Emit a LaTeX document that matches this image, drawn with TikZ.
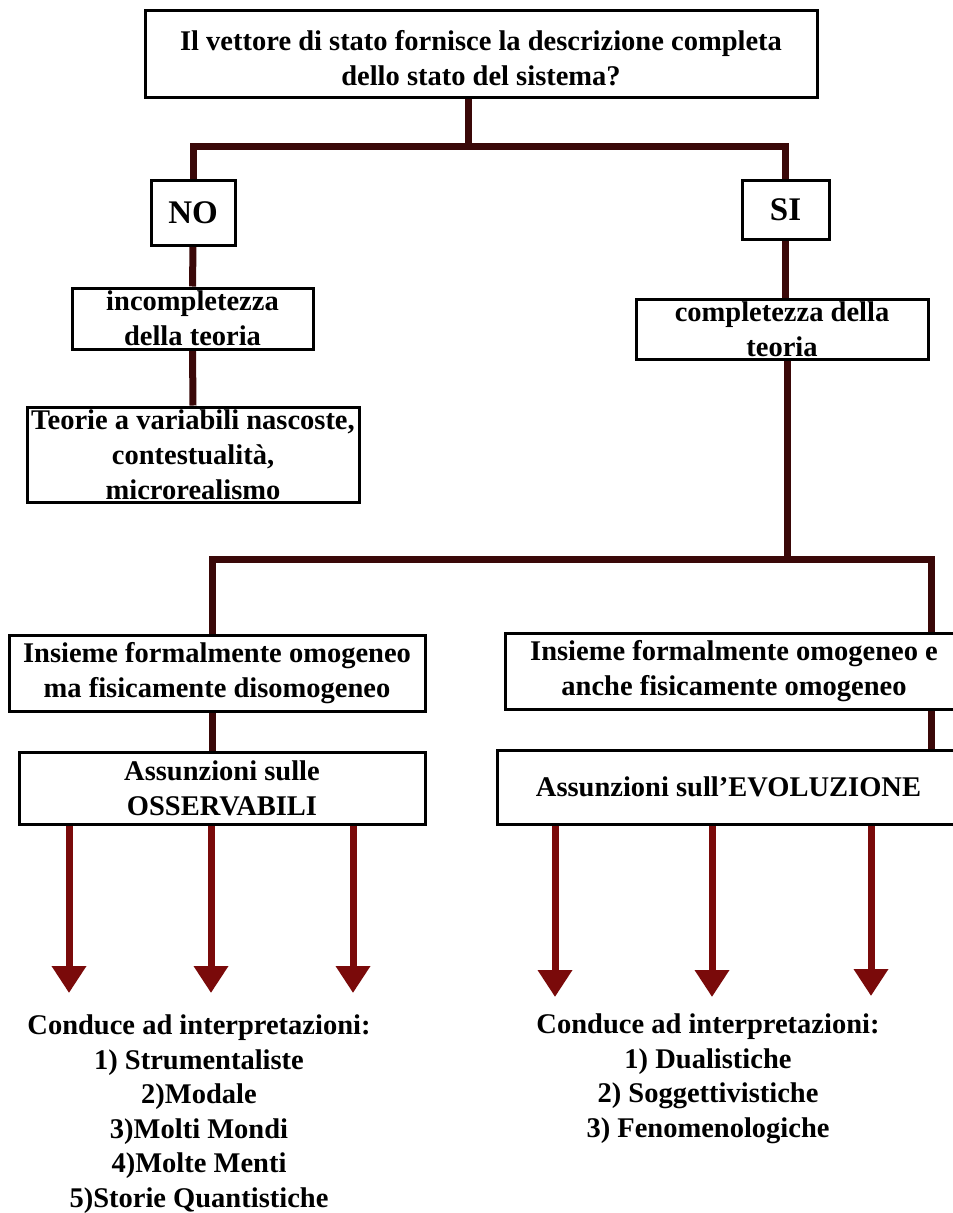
\documentclass[tikz,border=0pt]{standalone}
\usepackage{fontspec}
\setmainfont{Liberation Serif}
\usetikzlibrary{arrows.meta,backgrounds}
\definecolor{linkbrown}{HTML}{3A0808}
\definecolor{arrowred}{HTML}{7A0A0A}
\begin{document}
\begin{tikzpicture}[x=1pt,y=-1pt,
  box/.style={draw=black, line width=3pt, fill=white, inner sep=0pt,
    align=center, font=\bfseries\fontsize{28.5}{35}\selectfont},
  bigbox/.style={box, font=\bfseries\fontsize{33}{35}\selectfont},
  link/.style={draw=linkbrown, line width=7pt, line join=miter},
  down/.style={draw=arrowred, line width=7pt,
    -{Triangle[width=33pt,length=27pt]}},
  outtext/.style={align=center, inner sep=0pt, font=\bfseries\fontsize{28.5}{34.5}\selectfont}
]
\useasboundingbox (0,0) rectangle (953,1213);

% question and the two answers
\node[box, minimum width=672pt, minimum height=87pt] (q) at (481,53.5)
  {\rule{0pt}{30pt}Il vettore di stato fornisce la descrizione completa\\dello stato del sistema?};
\node[bigbox, minimum width=84pt, minimum height=65pt] (no) at (193,212.5) {NO};
\node[bigbox, minimum width=87pt, minimum height=59pt] (si) at (785.5,209.5) {SI};

% "NO" branch
\node[box, minimum width=241pt, minimum height=61pt] (inc) at (192.5,318.5)
  {incompletezza\\della teoria};
\node[box, minimum width=332pt, minimum height=95pt] (teo) at (193,454.5)
  {Teorie a variabili nascoste,\\contestualità,\\microrealismo};

% "SI" branch
\node[box, minimum width=292pt, minimum height=60pt] (comp) at (782,329)
  {completezza della\\teoria};
\node[box, minimum width=416pt, minimum height=76pt] (insL) at (217,673)
  {Insieme formalmente omogeneo\\ma fisicamente disomogeneo};
\node[box, minimum width=458pt, minimum height=76pt] (insR) at (734,671)
  {Insieme formalmente omogeneo e\\anche fisicamente omogeneo};
\node[box, minimum width=406pt, minimum height=72pt] (asL) at (222,788)
  {Assunzioni sulle\\OSSERVABILI};
\node[box, minimum width=463pt, minimum height=74pt] (asR) at (728.5,787)
  {Assunzioni sull'EVOLUZIONE};

% resulting interpretations
\node[outtext] (resL) at (199,1114)
  {Conduce ad interpretazioni:\\1) Strumentaliste\\2)Modale\\3)Molti Mondi\\4)Molte Menti\\5)Storie Quantistiche};
\node[outtext] (resR) at (708,1078.5)
  {Conduce ad interpretazioni:\\1) Dualistiche\\2) Soggettivistiche\\3) Fenomenologiche};

% junctions and arrow tips
\coordinate (j1) at (468,146);
\coordinate (j2) at (787,559);
\coordinate (j3) at (212,559);
\coordinate (j4) at (931,559);
\coordinate (tl1) at (69,993);
\coordinate (tl2) at (211,993);
\coordinate (tl3) at (353,993);
\coordinate (tr1) at (555,997);
\coordinate (tr2) at (712,997);
\coordinate (tr3) at (871,996);

\begin{scope}[on background layer]
  \fill[white] (0,0) rectangle (953,1213);
  % tree connectors
  \draw[link] (q.south -| j1) -- (j1);
  \draw[link] (no.north) |- (j1) -| (si.north);
  \draw[link] (no.south) -- (inc.north);
  \draw[link] (inc.south) -- (teo.north);
  \draw[link] (si.south) -- (si.south |- comp.north);
  \draw[link] (comp.south -| j2) -- (j2);
  \draw[link] (j3 |- insL.north) -- (j3) -- (j4) -- (j4 |- insR.north);
  \draw[link] (j4 |- insR.south) -- (j4 |- asR.north);
  \draw[link] (insL.south -| j3) -- (j3 |- asL.north);
  % arrows towards the interpretations
  \draw[down] (asL.south -| tl1) -- (tl1);
  \draw[down] (asL.south -| tl2) -- (tl2);
  \draw[down] (asL.south -| tl3) -- (tl3);
  \draw[down] (asR.south -| tr1) -- (tr1);
  \draw[down] (asR.south -| tr2) -- (tr2);
  \draw[down] (asR.south -| tr3) -- (tr3);
\end{scope}
\end{tikzpicture}
\end{document}
